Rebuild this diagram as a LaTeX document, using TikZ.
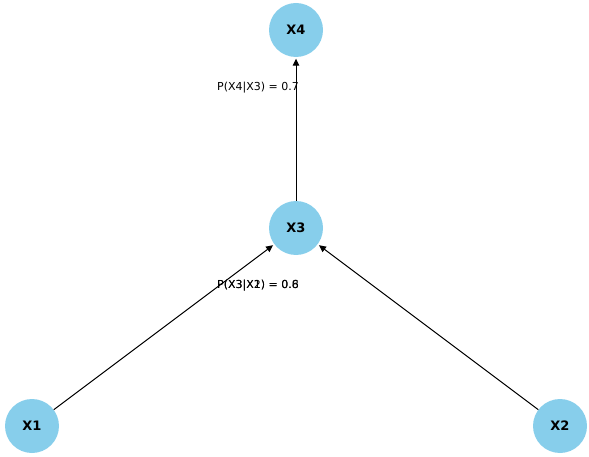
\documentclass[tikz,border=0pt]{standalone}
\usepackage{fontspec}
\setmainfont{DejaVu Sans}
\usetikzlibrary{arrows.meta}
\definecolor{skyblue}{HTML}{87CEEB}
\begin{document}
\begin{tikzpicture}[x=1pt, y=-1pt,
    varnode/.style={circle, fill=skyblue, minimum size=54pt, inner sep=0pt,
        font=\fontsize{13}{15}\selectfont\bfseries},
    edgelbl/.style={font=\fontsize{11}{13}\selectfont, inner sep=0pt},
    depedge/.style={-{Triangle[length=7pt,width=6.5pt]}, line width=1pt, shorten >=1.5pt}]
    \useasboundingbox (0,0) rectangle (589,457);

    % Variables
    \node[varnode] (X4) at (296,30)  {X4};
    \node[varnode] (X3) at (296,228) {X3};
    \node[varnode] (X1) at (32,426)  {X1};
    \node[varnode] (X2) at (560,426) {X2};

    % Dependencias
    \draw[depedge] (X3) -- (X4);
    \draw[depedge] (X1) -- (X3);
    \draw[depedge] (X2) -- (X3);

    % Probabilidades condicionales (las dos de X3 se solapan)
    \node[edgelbl] (p43) at (258,88)  {P(X4|X3) = 0.7};
    \node[edgelbl] (p31) at (258,286) {P(X3|X1) = 0.6};
    \node[edgelbl] (p32) at (258,286) {P(X3|X2) = 0.8};
\end{tikzpicture}
\end{document}
